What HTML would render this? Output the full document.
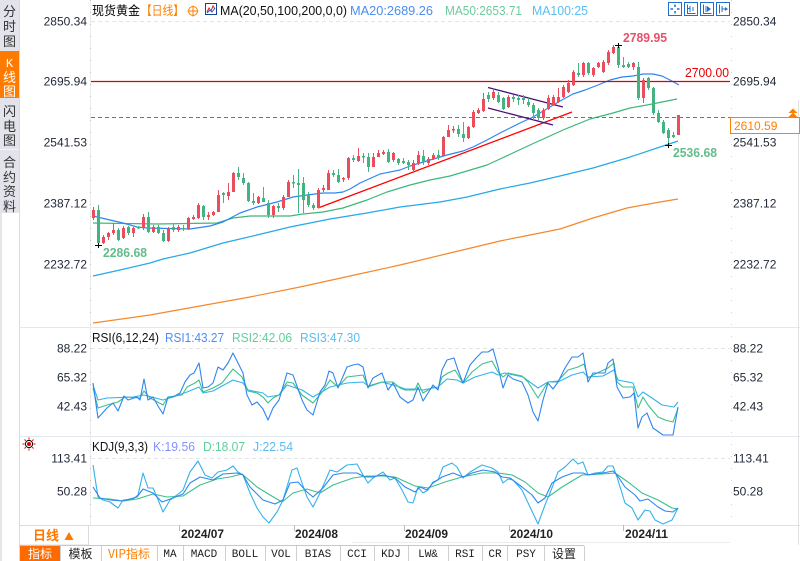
<!DOCTYPE html>
<html><head><meta charset="utf-8"><style>
html,body{margin:0;padding:0;background:#fff;}
body{width:800px;height:561px;overflow:hidden;}
svg{display:block;}
text{font-family:"Liberation Sans","Noto Sans CJK SC",sans-serif;}
.cj{font-family:"Noto Sans CJK SC","WenQuanYi Zen Hei",sans-serif;}
.mono{font-family:"Liberation Mono","Noto Sans CJK SC",monospace;}
</style></head><body>
<svg width="800" height="561" viewBox="0 0 800 561" xmlns="http://www.w3.org/2000/svg">
<rect width="800" height="561" fill="#fff"/>

<!-- Sidebar -->
<rect x="0" y="0" width="19" height="213" fill="#e3e4eb"/>
<rect x="0" y="51" width="19" height="47" fill="#ff7b00"/>
<line x1="0" y1="149.5" x2="19" y2="149.5" stroke="#f4f4f7"/>
<rect x="0" y="213" width="2" height="348" fill="#e6e6e6"/>
<line x1="19.5" y1="0" x2="19.5" y2="561" stroke="#d9d9de"/>
<g class="cj" font-size="13" fill="#333" text-anchor="middle">
<text x="9.5" y="16">分</text><text x="9.5" y="31">时</text><text x="9.5" y="46">图</text>
<text x="9.5" y="67" fill="#fff" class="mono" font-size="12">K</text><text x="9.5" y="82" fill="#fff">线</text><text x="9.5" y="96" fill="#fff">图</text>
<text x="9.5" y="116">闪</text><text x="9.5" y="131">电</text><text x="9.5" y="145">图</text>
<text x="9.5" y="167">合</text><text x="9.5" y="182">约</text><text x="9.5" y="196">资</text><text x="9.5" y="211">料</text>
</g>

<!-- axes lines -->
<line x1="90.5" y1="0" x2="90.5" y2="525" stroke="#ebebeb"/>
<line x1="90.5" y1="0" x2="90.5" y2="525" stroke="#c4c4c4" stroke-dasharray="1,11"/>
<line x1="731.5" y1="0" x2="731.5" y2="525" stroke="#cfcfcf" stroke-dasharray="1,11"/>
<line x1="798.5" y1="100" x2="798.5" y2="545" stroke="#e2e2e2"/>
<line x1="19" y1="327.5" x2="800" y2="327.5" stroke="#e3e8ef"/>
<line x1="19" y1="436.5" x2="800" y2="436.5" stroke="#e3e8ef"/>
<line x1="19" y1="525.5" x2="800" y2="525.5" stroke="#e0e0e0"/>

<!-- grid dashes -->
<line x1="91" y1="21.5" x2="730" y2="21.5" stroke="#e4e4e4" stroke-dasharray="4,3"/>
<line x1="91" y1="348.5" x2="730" y2="348.5" stroke="#e4e4e4" stroke-dasharray="4,3"/>
<line x1="91" y1="458.5" x2="730" y2="458.5" stroke="#e4e4e4" stroke-dasharray="4,3"/>

<!-- Header -->
<g font-size="12.5">
<text class="cj" x="92" y="15" textLength="48" lengthAdjust="spacingAndGlyphs" fill="#000">现货黄金</text>
<text class="cj" x="141" y="15" textLength="43" lengthAdjust="spacingAndGlyphs" fill="#ff7f00">【日线】</text>
<text x="220" y="15" textLength="127" lengthAdjust="spacingAndGlyphs" fill="#111">MA(20,50,100,200,0,0)</text>
<text x="350" y="15" textLength="83" lengthAdjust="spacingAndGlyphs" fill="#4b8df0">MA20:2689.26</text>
<text x="445" y="15" textLength="77" lengthAdjust="spacingAndGlyphs" fill="#6dcb9c">MA50:2653.71</text>
<text x="532" y="15" textLength="56" lengthAdjust="spacingAndGlyphs" fill="#5cbdf0">MA100:25</text>
</g>
<circle cx="193" cy="11" r="4.5" fill="none" stroke="#ff7f00" stroke-width="1"/>
<line x1="187.5" y1="11" x2="198.5" y2="11" stroke="#ff7f00"/>
<line x1="193" y1="5.5" x2="193" y2="16.5" stroke="#ff7f00"/>
<rect x="205.5" y="3.5" width="11" height="11" fill="#fff" stroke="#1b3f8f"/>
<polyline points="207,12 209,8 211,11 213,6 215,9" fill="none" stroke="#e02020"/>
<polyline points="207,13 210,10 212,12 215,8" fill="none" stroke="#2060d0"/>

<!-- top right icons -->
<g fill="none" stroke="#1f6fd1">
<rect x="668.5" y="2.5" width="13" height="13"/>
<rect x="684.5" y="2.5" width="13" height="13"/>
<rect x="700.5" y="2.5" width="13" height="13"/>
<rect x="716.5" y="2.5" width="13" height="13"/>
<path d="M675 4.5V7M675 11V13.5M670.5 9H673M677 9H679.5" stroke-width="1.5"/>
<path d="M687.5 4.5V13.5H695.5M690 6V12M693 7V11M688 8.5H690" />
<path d="M703.5 4.5V13.5H711.5M706 6V12"/>
<path d="M719.5 4.5V13.5M722 6V12M722 9H727"/>
</g>
<polygon points="707,6 711,9 707,12" fill="#1f6fd1"/>
<polygon points="725,7 728,9 725,11" fill="#1f6fd1"/>

<!-- axis labels main -->
<g font-size="12" fill="#1f2636">
<text x="87" y="25.5" text-anchor="end">2850.34</text>
<text x="87" y="85.5" text-anchor="end">2695.94</text>
<text x="87" y="146.5" text-anchor="end">2541.53</text>
<text x="87" y="207.5" text-anchor="end">2387.12</text>
<text x="87" y="268.5" text-anchor="end">2232.72</text>
<text x="733" y="25.5">2850.34</text>
<text x="733" y="85.5">2695.94</text>
<text x="733" y="146.5">2541.53</text>
<text x="733" y="207.5">2387.12</text>
<text x="733" y="268.5">2232.72</text>
<text x="87" y="352.5" text-anchor="end">88.22</text>
<text x="87" y="381.5" text-anchor="end">65.32</text>
<text x="87" y="410.5" text-anchor="end">42.43</text>
<text x="733" y="352.5">88.22</text>
<text x="733" y="381.5">65.32</text>
<text x="733" y="410.5">42.43</text>
<text x="87" y="462.5" text-anchor="end">113.41</text>
<text x="87" y="495.5" text-anchor="end">50.28</text>
<text x="733" y="462.5">113.41</text>
<text x="733" y="495.5">50.28</text>
</g>

<!-- price box -->
<rect x="730.5" y="117.5" width="69" height="16" fill="#fff" stroke="#ff8000"/>
<text x="734" y="130" font-size="12" fill="#ff8000">2610.59</text>
<polygon points="793,108.5 788.5,113 797.5,113" fill="#ff8000"/>
<polygon points="793,112.5 788.5,117 797.5,117" fill="#ff8000"/>

<!-- MA200, MA100, MA50, MA20 -->
<g fill="none" stroke-width="1.2" stroke-linejoin="round">
<polyline stroke="#f5882a" points="93,323 150,315 200,306 250,297 300,287 350,276 400,265 450,253 500,241 530,235 560,229 593,218 627,208 660,202 678,199"/>
<polyline stroke="#25a9e8" points="93,276 120,270 150,263 163,259 190,253 223,243 257,235 290,227 330,219 367,213 400,207 440,202 467,197 500,189 530,183 560,176 593,168 627,158 660,147 678,141"/>
<polyline stroke="#3cb878" points="93,223 157,224 217,223 233,218 250,216 290,216 303,214 323,212 333,210 343,208 367,200 387,192 410,185 430,180 450,176 467,171 487,165 500,159 530,145 563,130 590,119 613,113 630,108 647,105 677,99"/>
<polyline stroke="#2e86f0" points="93,216 110,220 123,223 137,227 147,228 190,229 210,226 223,222 240,213 257,207 277,202 293,197 307,195 323,193 335,193 343,192 350,189 360,183 380,174 400,170 410,166 430,160 447,155 463,151 473,147 487,140 500,133 510,128 520,123 533,117 545,110 560,101 573,94 585,90 598,85 610,80 622,77 633,76 643,74 653,74 662,76 670,80 679,85"/>
</g>

<!-- horizontal lines -->
<line x1="91" y1="81.5" x2="730" y2="81.5" stroke="#e00000" stroke-width="1.2"/>
<line x1="91" y1="117.5" x2="730" y2="117.5" stroke="#2a7fff" stroke-dasharray="4,3"/>
<text x="685" y="77" font-size="12.5" fill="#e60000" textLength="44" lengthAdjust="spacingAndGlyphs">2700.00</text>

<!-- trend lines -->
<line x1="318" y1="208" x2="572" y2="112" stroke="#ff0000" stroke-width="1.3"/>
<line x1="488" y1="87.5" x2="563" y2="107" stroke="#4b0f7a" stroke-width="1.3"/>
<line x1="488" y1="108" x2="553" y2="125" stroke="#4b0f7a" stroke-width="1.3"/>

<!-- candles: red -->
<g fill="none" stroke="#ea4d5c">
<path stroke-width="1" d="M93.5 207V220M103.5 235V244M108.5 232V240M113.5 223V235M123.5 226V239M133.5 227V237M143.5 214V230M153.5 225V233M168.5 227V242M178.5 225V232M188.5 217V230M193.5 215V220M198.5 203V219M208.5 212V220M213.5 211V216M218.5 190V212M228.5 183V200M233.5 172V192M258.5 196V204M273.5 205V218M283.5 195V210M288.5 180V197M318.5 188V208M323.5 185V192M328.5 170V190M343.5 177V182M348.5 157V180M358.5 148V162M373.5 153V167M378.5 150V157M383.5 150V155M393.5 152V162M413.5 160V172M418.5 151V165M428.5 157V165M433.5 153V160M443.5 136V156M448.5 125V137M453.5 126V133M468.5 126V139M473.5 110V128M478.5 108V114M483.5 93V112M493.5 88V100M508.5 95V108M543.5 108V120M548.5 95V110M553.5 95V106M558.5 88V103M563.5 85V98M568.5 80V93M573.5 70V86M583.5 62V77M593.5 67V77M598.5 62V68M603.5 60V73M608.5 50V65M613.5 45V54M633.5 62V70M643.5 78V103M678.5 115V135"/>
<path stroke-width="3" d="M93.5 210V218M103.5 237V243M108.5 233V237M113.5 230V233M123.5 228V238M133.5 228V233M143.5 217V228M153.5 227V232M168.5 228V241M178.5 227V230M188.5 218V229M193.5 217V219M198.5 205V218M208.5 215V217M213.5 212V215M218.5 195V212M228.5 192V196M233.5 173V192M258.5 197V203M273.5 206V215M283.5 197V208M288.5 182V197M318.5 190V208M323.5 188V190M328.5 173V190M343.5 178V179.5M348.5 158V178M358.5 156V161M373.5 157V167M378.5 153V157M383.5 152V154M393.5 153V160M413.5 163V170M418.5 155V163M428.5 159V163M433.5 155V159M443.5 137V156M448.5 130V137M453.5 129V130.5M468.5 127V138M473.5 112V127M478.5 110V113M483.5 99V111M493.5 92V98M508.5 97V107M543.5 110V118M548.5 98V109M553.5 97V105M558.5 97V102M563.5 87V97M568.5 83V92M573.5 72V85M583.5 63V75M593.5 68V75M598.5 63V67M603.5 62V72M608.5 52V63M613.5 47V53M633.5 63V67M643.5 80V98M678.5 115V135"/>
</g>
<!-- candles: green -->
<g fill="none" stroke="#45b381">
<path stroke-width="1" d="M98.5 205V245M118.5 228V241M128.5 226V235M138.5 226V229M148.5 212V233M158.5 225V234M163.5 230V242M173.5 224V232M183.5 225V231M203.5 205V220M223.5 192V203M238.5 167V180M243.5 173V185M248.5 182V202M253.5 193V205M263.5 187V202M268.5 200V218M278.5 203V212M293.5 175V188M298.5 169V213M303.5 177V213M308.5 192V207M313.5 203V210M333.5 170V177M338.5 169V183M353.5 155V162M363.5 153V163M368.5 153V172M388.5 149V163M398.5 158V165M403.5 158V164M408.5 160V170M423.5 150V165M438.5 150V160M458.5 125V137M463.5 122V142M488.5 92V102M498.5 92V103M503.5 97V110M513.5 95V102M518.5 95V105M523.5 95V104M528.5 98V107M533.5 103V120M538.5 108V120M578.5 63V77M588.5 62V75M618.5 44V68M623.5 57V68M628.5 62V68M638.5 62V100M648.5 77V90M653.5 87V115M658.5 110V123M663.5 120V134M668.5 128V145M673.5 132V138"/>
<path stroke-width="3" d="M98.5 210V243M118.5 230V240M128.5 227V233M138.5 227V228.5M148.5 217V232M158.5 227V233M163.5 233V241M173.5 227V230M183.5 228V229.5M203.5 206V217M223.5 193V195M238.5 173V177M243.5 178V183M248.5 183V201M253.5 201V203M263.5 198V202M268.5 203V215M278.5 206V208M293.5 182V183.5M298.5 183V185M303.5 183V200M308.5 195V205M313.5 205V208M333.5 173V175M338.5 175V182M353.5 158V160M363.5 156V157.5M368.5 157V167M388.5 152V162M398.5 159V163M403.5 161V163M408.5 162V165M423.5 156V162M438.5 155V157M458.5 129V134M463.5 134V138M488.5 95V99M498.5 95V102M503.5 98V109M513.5 97V99M518.5 98V100M523.5 98V100M528.5 102V105M533.5 105V113M538.5 110V118M578.5 73V75M588.5 63V73M618.5 47V65M623.5 65V67M628.5 64V67M638.5 67V98M648.5 78V88M653.5 88V113M658.5 113V122M663.5 122V133M668.5 130V138M673.5 135V137"/>
</g>

<!-- high/low markers -->
<g stroke="#000" stroke-width="1">
<path d="M95 245.5H102M98.5 243V248"/>
<path d="M615 45.5H622M618.5 43V48"/>
<path d="M665 145.5H672M668.5 143V148"/>
</g>
<text x="623" y="42" font-size="12.5" font-weight="bold" fill="#e8506a" textLength="44" lengthAdjust="spacingAndGlyphs">2789.95</text>
<text x="103" y="257" font-size="12.5" font-weight="bold" fill="#62bd8c" textLength="44" lengthAdjust="spacingAndGlyphs">2286.68</text>
<text x="673" y="157" font-size="12.5" font-weight="bold" fill="#62bd8c" textLength="44" lengthAdjust="spacingAndGlyphs">2536.68</text>

<!-- RSI header -->
<g font-size="12.5">
<text x="92" y="342" textLength="67" lengthAdjust="spacingAndGlyphs" fill="#111">RSI(6,12,24)</text>
<text x="165" y="342" textLength="59" lengthAdjust="spacingAndGlyphs" fill="#4b8df8">RSI1:43.27</text>
<text x="232" y="342" textLength="60" lengthAdjust="spacingAndGlyphs" fill="#5fd09a">RSI2:42.06</text>
<text x="300" y="342" textLength="60" lengthAdjust="spacingAndGlyphs" fill="#5bbcf0">RSI3:47.30</text>
<text x="92" y="451" textLength="56" lengthAdjust="spacingAndGlyphs" fill="#111">KDJ(9,3,3)</text>
<text x="153" y="451" textLength="42" lengthAdjust="spacingAndGlyphs" fill="#8192ff">K:19.56</text>
<text x="203" y="451" textLength="42" lengthAdjust="spacingAndGlyphs" fill="#5fd09a">D:18.07</text>
<text x="253" y="451" textLength="40" lengthAdjust="spacingAndGlyphs" fill="#5bbcf0">J:22.54</text>
</g>

<!-- RSI lines -->
<g fill="none" stroke-width="1.1" stroke-linejoin="round">
<polyline stroke="#34b2ea" points="93,385 98,400 107,398 133,397 144,395 163,400 173,397 187,392 199,387 203,393 213,391 233,380 243,383 248,390 263,393 268,397 279,395 287,385 302,390 313,397 330,387 347,383 363,382 368,386 382,382 400,387 405,389 415,389 423,390 438,387 447,379 457,380 463,383 475,377 492,372 498,375 505,373 523,377 538,388 548,382 558,382 572,375 583,372 588,377 603,376 614,370 618,380 633,383 638,397 643,392 652,398 662,405 674,407 678,402"/>
<polyline stroke="#3cc08a" points="93,388 98,408 107,405 118,402 125,397 140,398 144,391 150,398 163,405 168,397 182,395 187,387 195,383 199,380 203,392 213,388 222,383 233,369 242,377 248,391 257,393 263,397 268,403 273,398 279,395 287,382 293,383 302,395 313,403 323,391 330,380 338,387 347,377 363,375 368,387 382,382 393,382 400,388 405,390 415,390 418,383 423,393 433,387 438,389 442,377 448,373 455,370 463,383 472,372 482,364 492,361 498,372 503,377 508,373 522,376 528,382 538,398 543,390 548,382 558,381 568,370 578,367 584,364 588,378 595,374 608,368 614,363 617,382 623,387 633,387 638,408 643,397 648,405 658,417 665,420 673,422 678,408"/>
<polyline stroke="#2e86f0" points="93,383 98,418 107,408 113,403 118,411 124,396 128,400 137,397 140,400 144,379 148,400 153,397 158,406 163,414 168,397 173,397 180,393 185,382 190,375 194,373 199,363 203,388 208,387 213,383 218,367 223,370 228,363 233,353 238,363 243,373 247,395 252,405 257,402 263,409 268,420 273,408 279,400 287,373 293,375 302,400 307,410 313,415 320,392 325,385 329,371 333,373 338,388 347,367 353,365 358,364 363,367 368,388 373,378 382,373 388,390 393,383 400,397 408,403 413,400 418,387 423,401 428,393 433,385 438,390 442,370 447,360 454,358 458,370 463,383 470,365 477,357 482,352 488,352 493,349 498,367 503,388 508,375 513,379 522,382 528,395 533,412 538,421 543,400 548,383 553,389 558,382 565,368 572,357 578,357 583,353 588,382 593,373 600,373 605,373 608,363 613,359 617,387 623,398 630,397 634,393 638,428 642,417 647,413 653,428 663,435 673,435 678,407"/>
</g>

<!-- KDJ lines -->
<g fill="none" stroke-width="1.1" stroke-linejoin="round">
<polyline stroke="#3cc08a" points="93,498 110,499 123,501 137,499 153,494 167,497 183,496 200,485 217,479 230,477 242,474 257,487 270,495 282,502 293,493 307,489 320,493 333,485 353,478 367,476 383,476 395,477 415,486 428,488 445,482 462,477 482,473 498,473 512,475 525,482 538,493 548,497 562,487 582,475 602,474 615,473 628,482 642,493 658,500 672,508 678,509"/>
<polyline stroke="#34b2ea" points="93,465 98,497 103,500 110,502 118,508 123,500 133,499 138,495 143,473 148,488 153,488 157,497 163,512 170,500 177,495 183,490 190,472 198,461 205,475 212,478 218,472 227,470 233,466 238,472 243,475 250,493 257,508 263,517 269,523 277,512 283,500 292,470 297,468 302,483 307,497 313,507 320,493 330,470 337,472 347,465 357,464 363,475 368,483 373,478 383,472 390,480 395,478 402,490 408,502 413,503 418,487 423,493 428,490 433,482 438,480 443,467 452,463 457,467 463,478 470,472 482,465 492,468 498,472 503,483 508,479 513,480 522,490 530,507 538,524 545,505 550,493 558,472 565,467 573,459 578,464 583,462 588,475 595,473 603,472 608,466 613,466 617,477 625,503 632,508 638,520 645,510 650,511 655,520 663,524 672,520 678,508"/>
<polyline stroke="#2e86f0" points="93,487 100,498 110,500 123,501 137,497 143,489 153,493 162,502 173,498 183,494 190,483 200,477 213,480 223,474 237,473 243,475 250,487 263,500 275,504 283,500 290,483 298,482 307,492 313,497 323,488 333,475 343,473 357,473 365,477 372,477 383,475 395,478 405,487 415,492 420,487 427,490 433,483 442,477 453,473 463,477 472,473 483,470 495,472 502,477 510,478 522,487 532,495 538,503 545,498 552,483 562,477 573,473 583,473 588,475 603,473 613,471 617,475 625,487 635,495 640,501 648,499 658,507 665,511 673,512 678,508"/>
</g>

<!-- sun icon -->
<g stroke="#e00000" stroke-width="1">
<path d="M29 437.5V439.5M29 448.5V450.5M22.5 444H24.5M33.5 444H35.5M24.5 439.5L25.8 440.8M32.2 447.2L33.5 448.5M33.5 439.5L32.2 440.8M25.8 447.2L24.5 448.5"/>
</g>
<circle cx="29" cy="444" r="3.6" fill="#fff" stroke="#000" stroke-width="1"/>
<circle cx="29" cy="444" r="2" fill="#e00000"/>

<!-- date axis -->
<g stroke="#bbb">
<line x1="179.5" y1="525" x2="179.5" y2="531"/>
<line x1="294.5" y1="525" x2="294.5" y2="531"/>
<line x1="404.5" y1="525" x2="404.5" y2="531"/>
<line x1="509.5" y1="525" x2="509.5" y2="531"/>
<line x1="623.5" y1="525" x2="623.5" y2="531"/>
</g>
<line x1="352" y1="542.5" x2="730" y2="542.5" stroke="#ececec"/>
<g font-size="12" font-weight="bold" fill="#222">
<text x="181" y="538" textLength="43" lengthAdjust="spacingAndGlyphs">2024/07</text>
<text x="295" y="538" textLength="43" lengthAdjust="spacingAndGlyphs">2024/08</text>
<text x="405" y="538" textLength="43" lengthAdjust="spacingAndGlyphs">2024/09</text>
<text x="510" y="538" textLength="43" lengthAdjust="spacingAndGlyphs">2024/10</text>
<text x="625" y="538" textLength="43" lengthAdjust="spacingAndGlyphs">2024/11</text>
</g>
<rect x="19.5" y="525.5" width="69" height="19.5" fill="#fff" stroke="#dcdcdc"/>
<text class="cj" x="33" y="540" font-size="13" font-weight="bold" fill="#ff7800">日线</text>
<polygon points="69,532 64.5,540 73.5,540" fill="#ff7800"/>

<!-- toolbar -->
<line x1="19" y1="545.5" x2="584" y2="545.5" stroke="#c8c8c8"/>
<rect x="20" y="546" width="40" height="15" fill="#ff6a00"/>
<g stroke="#cfcfcf">
<line x1="60.5" y1="546" x2="60.5" y2="561"/><line x1="101.5" y1="546" x2="101.5" y2="561"/>
<line x1="157.5" y1="546" x2="157.5" y2="561"/><line x1="183.5" y1="546" x2="183.5" y2="561"/>
<line x1="225.5" y1="546" x2="225.5" y2="561"/><line x1="265.5" y1="546" x2="265.5" y2="561"/>
<line x1="296.5" y1="546" x2="296.5" y2="561"/><line x1="340.5" y1="546" x2="340.5" y2="561"/>
<line x1="374.5" y1="546" x2="374.5" y2="561"/><line x1="408.5" y1="546" x2="408.5" y2="561"/>
<line x1="448.5" y1="546" x2="448.5" y2="561"/><line x1="482.5" y1="546" x2="482.5" y2="561"/>
<line x1="507.5" y1="546" x2="507.5" y2="561"/><line x1="544.5" y1="546" x2="544.5" y2="561"/>
<line x1="584.5" y1="546" x2="584.5" y2="561"/>
</g>
<g font-size="12" text-anchor="middle" fill="#222">
<text class="cj" x="40" y="558" fill="#fff">指标</text>
<text class="cj" x="80.5" y="558">模板</text>
<text class="cj" x="129" y="558" fill="#ff7f00">VIP指标</text>
<text class="mono" font-size="11" x="170" y="557">MA</text>
<text class="mono" font-size="11" x="204" y="557">MACD</text>
<text class="mono" font-size="11" x="245" y="557">BOLL</text>
<text class="mono" font-size="11" x="281" y="557">VOL</text>
<text class="mono" font-size="11" x="318" y="557">BIAS</text>
<text class="mono" font-size="11" x="357" y="557">CCI</text>
<text class="mono" font-size="11" x="391" y="557">KDJ</text>
<text class="mono" font-size="11" x="428" y="557">LW&amp;</text>
<text class="mono" font-size="11" x="465" y="557">RSI</text>
<text class="mono" font-size="11" x="495" y="557">CR</text>
<text class="mono" font-size="11" x="526" y="557">PSY</text>
<text class="cj" x="564" y="558">设置</text>
</g>
</svg>
</body></html>
